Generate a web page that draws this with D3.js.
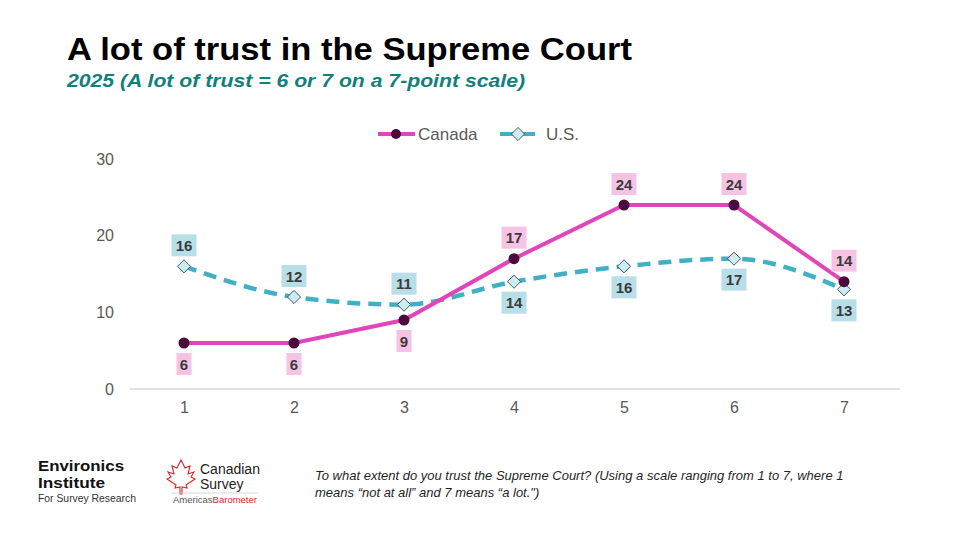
<!DOCTYPE html>
<html>
<head>
<meta charset="utf-8">
<script src="https://cdn.jsdelivr.net/npm/d3@7"></script>
<style>
  body { margin: 0; background: #fff; }
  svg { display: block; font-family: "Liberation Sans", Arial, sans-serif; }
</style>
</head>
<body>
<div id="chart"></div>
<script>
// scale points and values
var categories = [1, 2, 3, 4, 5, 6, 7];
var canada = [6, 6, 9, 17, 24, 24, 14];
var us = [16, 12, 11, 14, 16, 17, 13];
var yTicks = [0, 10, 20, 30];
// where each data label sits: 1 = above, -1 = below
var canadaLabelSide = [-1, -1, -1, 1, 1, 1, 1];
var usLabelSide = [1, 1, 1, -1, -1, -1, -1];

var W = 960, H = 540;
var pink = "#e046b9", teal = "#41b0c6";

var svg = d3.select("#chart").append("svg")
    .attr("width", W)
    .attr("height", H);

svg.append("rect").attr("width", W).attr("height", H).attr("fill", "#fff");

// title + subtitle
svg.append("text")
    .attr("x", 67).attr("y", 60)
    .attr("font-size", 31).attr("font-weight", "bold")
    .attr("fill", "#000")
    .attr("textLength", 565).attr("lengthAdjust", "spacingAndGlyphs")
    .text("A lot of trust in the Supreme Court");

svg.append("text")
    .attr("x", 67).attr("y", 87)
    .attr("font-size", 19).attr("font-weight", "bold").attr("font-style", "italic")
    .attr("fill", "#127f7c")
    .attr("textLength", 458).attr("lengthAdjust", "spacingAndGlyphs")
    .text("2025 (A lot of trust  = 6 or 7 on a 7-point scale)");

// scales
var x = d3.scalePoint().domain(categories).range([184, 844]);
var y = d3.scaleLinear().domain([0, 30]).range([389, 159]);

// y axis labels only, no line
var yAxis = svg.append("g")
    .attr("transform", "translate(118,0)")
    .call(d3.axisLeft(y).tickValues(yTicks).tickSize(0).tickPadding(4));
yAxis.select(".domain").remove();
yAxis.selectAll("text").attr("font-size", 16).attr("fill", "#595959")
    .attr("font-family", "Liberation Sans, Arial, sans-serif");

// x axis
var xAxis = svg.append("g")
    .attr("transform", "translate(0,389)")
    .call(d3.axisBottom(x).tickSize(0).tickPadding(13));
xAxis.select(".domain").attr("d", "M130,0H900").attr("stroke", "#d9d9d9").attr("stroke-width", 1.3);
xAxis.selectAll("text").attr("font-size", 16).attr("fill", "#595959")
    .attr("font-family", "Liberation Sans, Arial, sans-serif");

// lines
var canadaLine = d3.line()
    .x(function (d, i) { return x(categories[i]); })
    .y(function (d) { return y(d); });

// US series is a smoothed line on the slide
var usLine = d3.line()
    .x(function (d, i) { return x(categories[i]); })
    .y(function (d) { return y(d); })
    .curve(d3.curveMonotoneX);

svg.append("path")
    .datum(us)
    .attr("d", usLine)
    .attr("fill", "none")
    .attr("stroke", teal)
    .attr("stroke-width", 4.5)
    .attr("stroke-dasharray", "13,8");

svg.append("path")
    .datum(canada)
    .attr("d", canadaLine)
    .attr("fill", "none")
    .attr("stroke", pink)
    .attr("stroke-width", 4);

// markers
var diamond = d3.symbol().type(d3.symbolDiamond2).size(110);

svg.selectAll(".usdot")
    .data(us)
    .enter().append("path")
    .attr("class", "usdot")
    .attr("d", diamond)
    .attr("transform", function (d, i) {
        return "translate(" + x(categories[i]) + "," + y(d) + ")";
    })
    .attr("fill", "#cdecf2")
    .attr("stroke", "#2e4c57")
    .attr("stroke-width", 0.9);

svg.selectAll(".cadot")
    .data(canada)
    .enter().append("circle")
    .attr("class", "cadot")
    .attr("cx", function (d, i) { return x(categories[i]); })
    .attr("cy", function (d) { return y(d); })
    .attr("r", 5.5)
    .attr("fill", "#4b0a3c");

// data labels with coloured boxes
function drawLabels(values, sides, boxColor) {
    var g = svg.append("g");
    values.forEach(function (v, i) {
        var cx = x(categories[i]);
        var cy = y(v) - sides[i] * 21;
        var w = String(v).length > 1 ? 25 : 15;
        g.append("rect")
            .attr("x", cx - w / 2).attr("y", cy - 11)
            .attr("width", w).attr("height", 22)
            .attr("fill", boxColor);
        g.append("text")
            .attr("x", cx).attr("y", cy + 5.5)
            .attr("text-anchor", "middle")
            .attr("font-size", 15).attr("font-weight", "bold")
            .attr("fill", "#3b3b3b")
            .text(v);
    });
}
drawLabels(canada, canadaLabelSide, "#f6c3e4");
drawLabels(us, usLabelSide, "#b8dfe8");

// legend
var legend = svg.append("g").attr("transform", "translate(0,134)");
legend.append("line").attr("x1", 378).attr("x2", 415).attr("y1", 0).attr("y2", 0)
    .attr("stroke", pink).attr("stroke-width", 4);
legend.append("circle").attr("cx", 396).attr("cy", 0).attr("r", 5).attr("fill", "#4b0a3c");
legend.append("text").attr("x", 418).attr("y", 6).attr("font-size", 17).attr("fill", "#595959").text("Canada");
legend.append("line").attr("x1", 500).attr("x2", 535).attr("y1", 0).attr("y2", 0)
    .attr("stroke", teal).attr("stroke-width", 4);
legend.append("path").attr("d", diamond).attr("transform", "translate(518,0)")
    .attr("fill", "#cdecf2").attr("stroke", "#2e4c57").attr("stroke-width", 0.9);
legend.append("text").attr("x", 546).attr("y", 6).attr("font-size", 17).attr("fill", "#595959").text("U.S.");

// footnote
var note = svg.append("text")
    .attr("font-size", 13).attr("font-style", "italic").attr("fill", "#1f1f1f");
note.append("tspan").attr("x", 315).attr("y", 480)
    .text("To what extent do you trust the Supreme Court? (Using a scale ranging from 1 to 7, where 1");
note.append("tspan").attr("x", 315).attr("y", 497)
    .text("means \u201cnot at all\u201d and 7 means \u201ca lot.\")");

// Environics logo
var env = svg.append("g");
env.append("text").attr("x", 38).attr("y", 471).attr("font-size", 15).attr("font-weight", "bold")
    .attr("fill", "#111").attr("textLength", 86).attr("lengthAdjust", "spacingAndGlyphs").text("Environics");
env.append("text").attr("x", 38).attr("y", 488).attr("font-size", 15).attr("font-weight", "bold")
    .attr("fill", "#111").attr("textLength", 67).attr("lengthAdjust", "spacingAndGlyphs").text("Institute");
env.append("text").attr("x", 38).attr("y", 502).attr("font-size", 11.5)
    .attr("fill", "#333").attr("textLength", 98).attr("lengthAdjust", "spacingAndGlyphs").text("For Survey Research");

// Canadian Survey logo
var cs = svg.append("g");
cs.append("path")
    .attr("d", "M181,460 L177,468 L172,466 L174,474 L168,472 L171,477 L167,479 L176,485 L175,488 L180,487 L180,494 L182,494 L182,487 L187,488 L186,485 L195,479 L191,477 L194,472 L188,474 L190,466 L185,468 Z")
    .attr("fill", "none").attr("stroke", "#d9262c").attr("stroke-width", 1.1);
cs.append("text").attr("x", 200).attr("y", 474).attr("font-size", 14).attr("fill", "#222").text("Canadian");
cs.append("text").attr("x", 200).attr("y", 489).attr("font-size", 14).attr("fill", "#222").text("Survey");
cs.append("line").attr("x1", 172).attr("x2", 258).attr("y1", 493).attr("y2", 493)
    .attr("stroke", "#ccc").attr("stroke-width", 0.8);
var ab = cs.append("text").attr("x", 173).attr("y", 503).attr("font-size", 9.5);
ab.append("tspan").attr("fill", "#555").text("Americas");
ab.append("tspan").attr("fill", "#d9262c").text("Barometer");
</script>
</body>
</html>
